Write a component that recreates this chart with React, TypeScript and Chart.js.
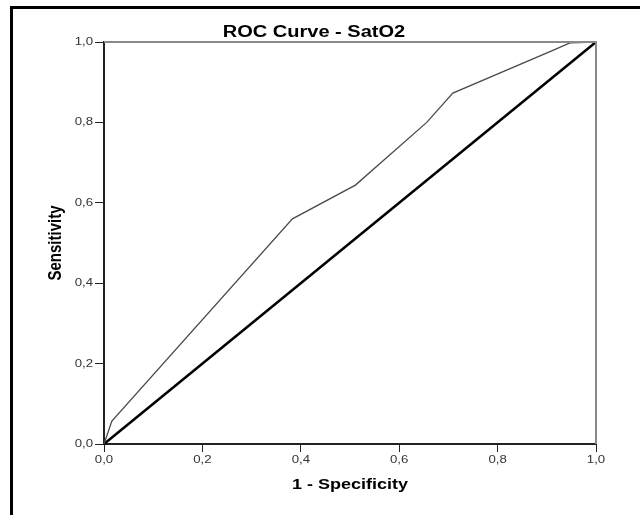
import React, { useEffect, useRef } from "react";
import { Chart, registerables } from "chart.js";
Chart.register(...registerables);

// ROC curve points (1 - Specificity, Sensitivity)
const rocX = [0, 0.016, 0.383, 0.511, 0.656, 0.709, 0.91, 0.947, 1.0];
const rocY = [0, 0.057, 0.56, 0.644, 0.8, 0.873, 0.978, 0.998, 1.0];
// Reference diagonal
const refX = [0, 1];
const refY = [0, 1];

const tickValues = [0, 0.2, 0.4, 0.6, 0.8, 1.0];
const tickLabels = ["0,0", "0,2", "0,4", "0,6", "0,8", "1,0"];
const chartTitle = "ROC Curve - SatO2";
const xTitle = "1 - Specificity";
const yTitle = "Sensitivity";

const FONT = '"Liberation Sans", Arial, sans-serif';
const STRETCH = 1.2;

function stretchedText(ctx: CanvasRenderingContext2D, text: string, x: number, y: number, align: CanvasTextAlign, baseline: CanvasTextBaseline, sx = STRETCH) {
  ctx.save();
  ctx.translate(x, y);
  ctx.scale(sx, 1);
  ctx.textAlign = align;
  ctx.textBaseline = baseline;
  ctx.fillText(text, 0, 0);
  ctx.restore();
}

const decor = {
  id: "decor",
  afterDraw(chart: any) {
    const { ctx, chartArea: a, scales } = chart;
    const xs = scales.x;
    const ys = scales.y;
    ctx.save();
    // outer frame (left and top)
    ctx.fillStyle = "#000";
    ctx.fillRect(10, 6, 630, 3);
    ctx.fillRect(10, 6, 3, 509);
    // grey top & right plot border
    ctx.strokeStyle = "#8a8a8a";
    ctx.lineWidth = 2;
    ctx.beginPath();
    ctx.moveTo(a.left, a.top);
    ctx.lineTo(a.right, a.top);
    ctx.lineTo(a.right, a.bottom);
    ctx.stroke();
    // tick labels
    ctx.fillStyle = "#333";
    ctx.font = `11px ${FONT}`;
    tickValues.forEach((v, i) => {
      stretchedText(ctx, tickLabels[i], xs.getPixelForValue(v), a.bottom + 10, "center", "top");
      stretchedText(ctx, tickLabels[i], a.left - 11, ys.getPixelForValue(v), "right", "middle");
    });
    // titles
    ctx.fillStyle = "#000";
    ctx.font = `bold 16px ${FONT}`;
    stretchedText(ctx, chartTitle, 314, 37, "center", "alphabetic", 1.25);
    ctx.font = `bold 15px ${FONT}`;
    stretchedText(ctx, xTitle, (a.left + a.right) / 2, 489, "center", "alphabetic");
    ctx.save();
    ctx.translate(56, (a.top + a.bottom) / 2);
    ctx.scale(STRETCH, 1);
    ctx.rotate(-Math.PI / 2);
    ctx.textAlign = "center";
    ctx.textBaseline = "middle";
    ctx.fillText(yTitle, 0, 0);
    ctx.restore();
    ctx.restore();
  },
};

export default function App() {
  const ref = useRef<HTMLCanvasElement>(null);
  useEffect(() => {
    if (!ref.current) return;
    const chart = new Chart(ref.current, {
      type: "scatter",
      data: {
        datasets: [
          {
            data: rocX.map((v, i) => ({ x: v, y: rocY[i] })),
            showLine: true,
            borderColor: "#4a4a4a",
            borderWidth: 1.3,
            pointRadius: 0,
            clip: false,
          } as any,
          {
            data: refX.map((v, i) => ({ x: v, y: refY[i] })),
            showLine: true,
            borderColor: "#000",
            borderWidth: 2.5,
            pointRadius: 0,
            clip: false,
          } as any,
        ],
      },
      options: {
        responsive: false,
        animation: false,
        layout: { padding: { left: 104, top: 42, right: 44, bottom: 71 } },
        plugins: {
          legend: { display: false },
          tooltip: { enabled: false },
          title: { display: false },
        },
        scales: {
          x: {
            type: "linear",
            min: 0,
            max: 1,
            ticks: { stepSize: 0.2, display: false },
            grid: { drawOnChartArea: false, drawTicks: true, tickLength: 8, tickColor: "#222", tickWidth: 1 },
            border: { color: "#222", width: 2 },
            afterFit(s: any) { s.height = 0; },
          },
          y: {
            type: "linear",
            min: 0,
            max: 1,
            ticks: { stepSize: 0.2, display: false },
            grid: { drawOnChartArea: false, drawTicks: true, tickLength: 9, tickColor: "#222", tickWidth: 1 },
            border: { color: "#222", width: 2 },
            afterFit(s: any) { s.width = 0; },
          },
        },
      },
      plugins: [decor],
    });
    return () => chart.destroy();
  }, []);
  return (
    <div style={{ position: "fixed", left: 0, top: 0, width: 640, height: 515, background: "#fff" }}>
      <canvas ref={ref} width={640} height={515} style={{ display: "block" }} />
    </div>
  );
}
